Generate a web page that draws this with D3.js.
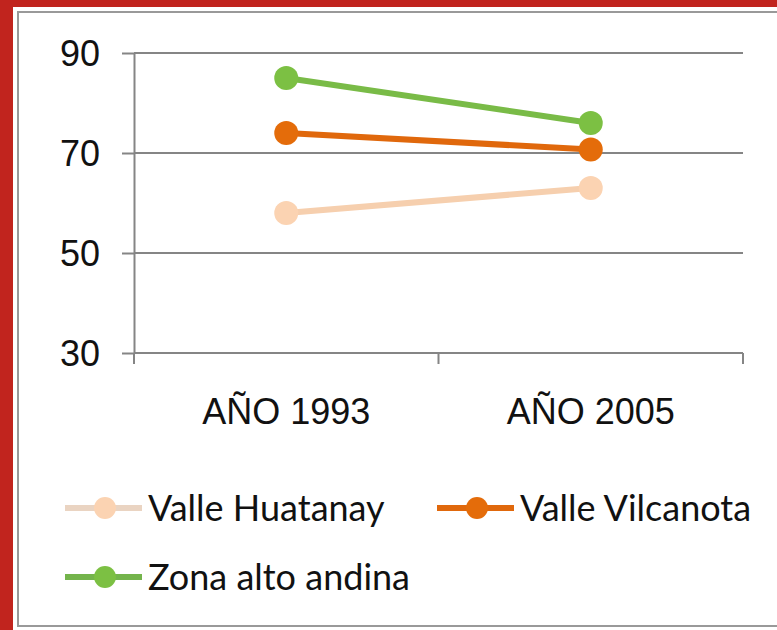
<!DOCTYPE html>
<html>
<head>
<meta charset="utf-8">
<script src="https://cdn.jsdelivr.net/npm/d3@7"></script>
<style>
  html, body { margin: 0; padding: 0; background: #fff; }
  svg { display: block; }
</style>
</head>
<body>
<svg id="chart" width="777" height="630"></svg>
<script>
const categories = ["AÑO 1993", "AÑO 2005"];
const seriesNames = ["Valle Huatanay", "Valle Vilcanota", "Zona alto andina"];
const huatanay = [58, 63];
const vilcanota = [74, 70.7];
const altoAndina = [85, 76];
const yTicks = [30, 50, 70, 90];

const colors = ["#fbd3b2", "#e46c0a", "#7cc043"];
const lineColors = ["#f6cfae", "#e0680c", "#79bb47"];
const legendLineColors = ["#ead4c2", "#e0680c", "#74b44c"];
const values = [huatanay, vilcanota, altoAndina];

const width = 777, height = 630;
const plot = { left: 134, right: 743, top: 53, bottom: 353 };

const svg = d3.select("#chart");

// red frame + inner grey box
svg.append("rect").attr("x", 0).attr("y", 0).attr("width", width).attr("height", height).attr("fill", "#c1241e");
svg.append("rect").attr("x", 13).attr("y", 7).attr("width", width).attr("height", height).attr("fill", "#fff");
svg.append("rect").attr("x", 18).attr("y", 12).attr("width", width + 10).attr("height", height - 16)
  .attr("fill", "none").attr("stroke", "#999").attr("stroke-width", 2);

const x = d3.scaleBand().domain(categories).range([plot.left, plot.right]).padding(0);
const y = d3.scaleLinear().domain([30, 90]).range([plot.bottom, plot.top]);

const axisColor = "#858585";

// gridlines
svg.append("g")
  .selectAll("line")
  .data(yTicks.filter((d) => d > 30))
  .join("line")
  .attr("x1", plot.left)
  .attr("x2", plot.right)
  .attr("y1", (d) => y(d))
  .attr("y2", (d) => y(d))
  .attr("stroke", axisColor)
  .attr("stroke-width", 2);

// y axis
svg.append("g")
  .attr("transform", `translate(${plot.left},0)`)
  .call(d3.axisLeft(y).tickValues(yTicks).tickSize(12).tickPadding(22).tickSizeOuter(0))
  .call((a) => a.select(".domain").attr("stroke", axisColor).attr("stroke-width", 2))
  .call((a) => a.selectAll("line").attr("stroke", axisColor).attr("stroke-width", 2))
  .call((a) => a.selectAll("text")
    .attr("fill", "#111")
    .attr("font-family", "'Liberation Sans', Arial, sans-serif")
    .attr("font-size", 36)
    .attr("dy", "0.36em"));

// x axis line and category-boundary ticks
const bounds = categories.map((c) => x(c)).concat([x.range()[1]]);
svg.append("line")
  .attr("x1", plot.left).attr("x2", plot.right)
  .attr("y1", y(30)).attr("y2", y(30))
  .attr("stroke", axisColor).attr("stroke-width", 2);
svg.append("g")
  .selectAll("line")
  .data(bounds)
  .join("line")
  .attr("x1", (d) => d).attr("x2", (d) => d)
  .attr("y1", y(30)).attr("y2", y(30) + 11)
  .attr("stroke", axisColor).attr("stroke-width", 2);

svg.append("g")
  .attr("transform", `translate(0,${plot.bottom})`)
  .call(d3.axisBottom(x).tickSize(0).tickPadding(71))
  .call((a) => a.select(".domain").remove())
  .call((a) => a.selectAll("text")
    .attr("fill", "#111")
    .attr("font-family", "'Liberation Sans', Arial, sans-serif")
    .attr("font-size", 36)
    .attr("dy", "0"));

// series
const line = d3.line()
  .x((d, i) => x(categories[i]) + x.bandwidth() / 2)
  .y((d) => y(d));

values.forEach((vals, s) => {
  svg.append("path")
    .datum(vals)
    .attr("fill", "none")
    .attr("stroke", lineColors[s])
    .attr("stroke-width", 6)
    .attr("d", line);
  svg.append("g")
    .selectAll("circle")
    .data(vals)
    .join("circle")
    .attr("cx", (d, i) => x(categories[i]) + x.bandwidth() / 2)
    .attr("cy", (d) => y(d))
    .attr("r", 12)
    .attr("fill", colors[s]);
});

// legend
const legendCols = [65, 437];
const legendRows = [508, 577];
seriesNames.forEach((name, s) => {
  const lx = legendCols[s % 2];
  const ly = legendRows[Math.floor(s / 2)];
  const g = svg.append("g").attr("transform", `translate(${lx},${ly})`);
  g.append("line").attr("x1", 0).attr("x2", 77).attr("y1", 0).attr("y2", 0)
    .attr("stroke", legendLineColors[s]).attr("stroke-width", 6);
  g.append("circle").attr("cx", 40).attr("cy", 0).attr("r", 11).attr("fill", colors[s]);
  g.append("text")
    .attr("x", 83)
    .attr("y", 0)
    .attr("dy", "0.35em")
    .attr("fill", "#111")
    .attr("font-family", "Lato, 'Open Sans', sans-serif")
    .attr("font-size", 36)
    .text(name);
});
</script>
</body>
</html>
